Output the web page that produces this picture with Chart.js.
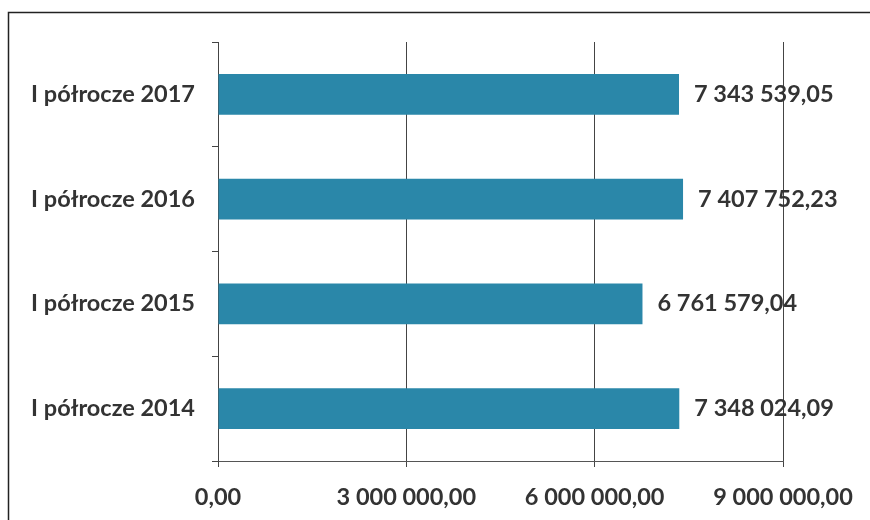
<!DOCTYPE html>
<html>
<head>
<meta charset="utf-8">
<script src="https://cdn.jsdelivr.net/npm/chart.js@4/dist/chart.umd.min.js"></script>
<style>
  html, body { margin: 0; padding: 0; background: #fff; }
  #wrap { width: 870px; height: 520px; }
</style>
</head>
<body>
<div id="wrap"><canvas id="myChart" width="870" height="520"></canvas></div>
<script>
const categories = ['I półrocze 2017', 'I półrocze 2016', 'I półrocze 2015', 'I półrocze 2014'];
const values = [7343539.05, 7407752.23, 6761579.04, 7348024.09];
const xTicks = [0, 3000000, 6000000, 9000000];

const FONT = 'Lato, "Open Sans", sans-serif';
const INK = '#333333';

// polish style: space thousands, comma decimals
const fmt = (v) => {
  const parts = v.toFixed(2).split('.');
  return parts[0].replace(/\B(?=(\d{3})+(?!\d))/g, ' ') + ',' + parts[1];
};

const framePlugin = {
  id: 'frame',
  beforeDraw(chart) {
    const ctx = chart.ctx;
    ctx.save();
    ctx.fillStyle = '#fff';
    ctx.fillRect(0, 0, chart.width, chart.height);
    // only top and left edges of the scanned frame are visible
    ctx.strokeStyle = '#222';
    ctx.lineWidth = 1.5;
    ctx.beginPath();
    ctx.moveTo(8.5, chart.height);
    ctx.lineTo(8.5, 12.5);
    ctx.lineTo(chart.width, 12.5);
    ctx.stroke();
    ctx.restore();
  }
};

const valueLabels = {
  id: 'valueLabels',
  afterDatasetsDraw(chart) {
    const ctx = chart.ctx;
    const meta = chart.getDatasetMeta(0);
    ctx.save();
    ctx.font = 'bold 23.5px ' + FONT;
    ctx.fillStyle = INK;
    ctx.textAlign = 'left';
    ctx.textBaseline = 'middle';
    meta.data.forEach((bar, i) => {
      ctx.fillText(fmt(values[i]), bar.x + 15, bar.y);
    });
    ctx.restore();
  }
};

new Chart(document.getElementById('myChart'), {
  type: 'bar',
  data: {
    labels: categories,
    datasets: [{
      data: values,
      backgroundColor: '#2a87a9',
      borderWidth: 0,
      categoryPercentage: 0.78,
      barPercentage: 0.5
    }]
  },
  options: {
    indexAxis: 'y',
    responsive: false,
    animation: false,
    layout: { padding: { top: 42, right: 87, left: 0, bottom: 0 } },
    plugins: {
      legend: { display: false },
      tooltip: { enabled: false }
    },
    scales: {
      x: {
        min: 0,
        max: 9000000,
        afterBuildTicks(scale) { scale.ticks = xTicks.map(v => ({ value: v })); },
        afterFit(scale) { scale.height = 59; },
        grid: { color: '#444', lineWidth: 1, tickLength: 6, drawTicks: true },
        border: { color: '#555', width: 1 },
        ticks: {
          color: INK,
          font: { family: FONT, size: 23.5, weight: 'bold' },
          padding: 16,
          maxRotation: 0,
          callback: (v) => fmt(v)
        }
      },
      y: {
        afterFit(scale) { scale.width = 218; },
        grid: { drawOnChartArea: false, color: '#444', tickLength: 6, offset: true },
        border: { color: '#444', width: 1 },
        ticks: {
          color: INK,
          font: { family: FONT, size: 23.5, weight: 'bold' },
          padding: 17
        }
      }
    }
  },
  plugins: [framePlugin, valueLabels]
});
</script>
</body>
</html>
